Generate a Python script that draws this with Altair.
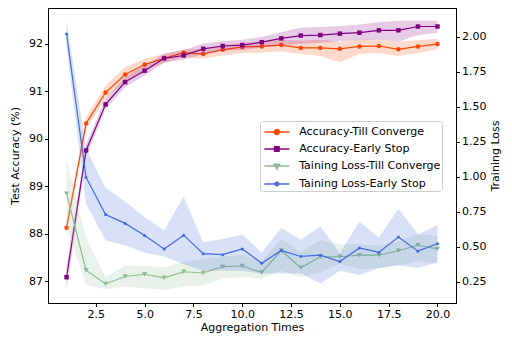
import altair as alt
import pandas as pd

x_vals = list(range(1, 21))

series_names = ["Accuracy-Till Converge", "Accuracy-Early Stop",
                "Taining Loss-Till Converge", "Taining Loss-Early Stop"]
series_colors = ["#FF4500", "#800080", "#8FBC8F", "#4169E1"]
series_shapes = ["circle", "square", "triangle-down", "circle"]
series_sizes = [20, 20, 26, 9]

acc_tc_mean = [88.12, 90.32, 90.97, 91.35, 91.56, 91.69, 91.81, 91.78, 91.87, 91.93,
               91.94, 91.97, 91.91, 91.91, 91.89, 91.94, 91.95, 91.88, 91.94, 91.99]
acc_tc_lo = [87.99, 90.20, 90.84, 91.22, 91.44, 91.59, 91.72, 91.68, 91.75, 91.80,
             91.81, 91.84, 91.78, 91.74, 91.61, 91.78, 91.80, 91.74, 91.80, 91.88]
acc_tc_hi = [88.25, 90.45, 91.12, 91.50, 91.68, 91.78, 91.88, 91.88, 91.96, 92.02,
             92.04, 92.08, 92.06, 92.08, 92.04, 92.08, 92.08, 92.04, 92.07, 92.11]

acc_es_mean = [87.08, 89.75, 90.72, 91.19, 91.43, 91.69, 91.75, 91.89, 91.95, 91.97,
               92.03, 92.11, 92.17, 92.18, 92.21, 92.23, 92.28, 92.28, 92.36, 92.36]
acc_es_lo = [86.82, 89.62, 90.62, 91.08, 91.33, 91.60, 91.66, 91.78, 91.85, 91.86,
             91.92, 91.97, 91.99, 92.02, 92.05, 92.07, 92.08, 92.04, 92.18, 92.23]
acc_es_hi = [87.30, 89.88, 90.84, 91.30, 91.54, 91.79, 91.86, 92.00, 92.05, 92.08,
             92.14, 92.24, 92.34, 92.35, 92.37, 92.40, 92.45, 92.48, 92.48, 92.48]

loss_tc_mean = [0.88, 0.334, 0.236, 0.289, 0.305, 0.28, 0.323, 0.314, 0.359, 0.364,
                0.318, 0.475, 0.352, 0.43, 0.43, 0.441, 0.441, 0.473, 0.512, 0.486]
loss_tc_lo = [0.64, 0.227, 0.198, 0.216, 0.205, 0.193, 0.216, 0.227, 0.273, 0.284,
              0.275, 0.33, 0.284, 0.32, 0.38, 0.34, 0.35, 0.37, 0.40, 0.38]
loss_tc_hi = [1.125, 0.568, 0.284, 0.37, 0.364, 0.357, 0.393, 0.416, 0.432, 0.444,
              0.40, 0.557, 0.466, 0.55, 0.52, 0.52, 0.51, 0.54, 0.59, 0.58]

loss_es_mean = [2.02, 0.996, 0.732, 0.668, 0.582, 0.486, 0.584, 0.452, 0.445, 0.486,
                0.384, 0.475, 0.432, 0.441, 0.396, 0.493, 0.461, 0.571, 0.47, 0.523]
loss_es_lo = [1.92, 0.807, 0.546, 0.512, 0.459, 0.432, 0.377, 0.33, 0.33, 0.33,
              0.31, 0.31, 0.31, 0.24, 0.33, 0.30, 0.35, 0.37, 0.35, 0.39]
loss_es_hi = [2.12, 1.20, 0.92, 0.825, 0.711, 0.62, 0.859, 0.534, 0.557, 0.589,
              0.459, 0.636, 0.552, 0.648, 0.455, 0.682, 0.568, 0.773, 0.59, 0.654]

acc_ticks = [87, 88, 89, 90, 91, 92]
loss_ticks = [0.25, 0.5, 0.75, 1.0, 1.25, 1.5, 1.75, 2.0]
x_ticks = [2.5, 5.0, 7.5, 10.0, 12.5, 15.0, 17.5, 20.0]


def frame(name, mean, lo, hi):
    return pd.DataFrame({"x": x_vals, "mean": mean, "lo": lo, "hi": hi, "series": name})


frames = [
    frame(series_names[0], acc_tc_mean, acc_tc_lo, acc_tc_hi),
    frame(series_names[1], acc_es_mean, acc_es_lo, acc_es_hi),
    frame(series_names[2], loss_tc_mean, loss_tc_lo, loss_tc_hi),
    frame(series_names[3], loss_es_mean, loss_es_lo, loss_es_hi),
]
legend_df = pd.DataFrame({"series": series_names})

FONT = "DejaVu Sans"
FS = 11

# legend symbols: a short line with the marker in the middle (custom SVG paths)
seg = "M-0.77,0L2.12,0"
legend_paths = [
    seg + "M0.96,0A0.29,0.29,0,1,1,0.38,0A0.29,0.29,0,1,1,0.96,0Z",
    seg + "M0.40,-0.27L0.94,-0.27L0.94,0.27L0.40,0.27Z",
    seg + "M0.34,-0.2L1.0,-0.2L0.67,0.36Z",
    seg + "M0.87,0A0.2,0.2,0,1,1,0.47,0A0.2,0.2,0,1,1,0.87,0Z",
]

legend = alt.Legend(
    orient="none", legendX=212, legendY=113, title=None,
    padding=1.5, symbolSize=300, labelOffset=18.7, rowPadding=2,
    strokeColor="#cccccc", fillColor="rgba(255,255,255,0.8)", cornerRadius=3,
    labelFontSize=FS, labelFont=FONT, labelColor="black", labelLimit=300,
    symbolStrokeWidth=1.3, symbolOpacity=1,
)

x_enc = alt.X("x:Q", scale=alt.Scale(domain=[0.05, 20.95], nice=False, zero=False),
              axis=alt.Axis(values=x_ticks, format=".1f", title="Aggregation Times",
                            titlePadding=2))

acc_axis = alt.Axis(orient="left", values=acc_ticks, format="d",
                    title="Test Accuracy (%)", titlePadding=8)
acc_scale = alt.Scale(domain=[86.537, 92.75], nice=False, zero=False)
loss_axis = alt.Axis(orient="right", values=loss_ticks, format=".2f",
                     title="Training Loss", titlePadding=4, titleAngle=270,
                     titleBaseline="top")
loss_scale = alt.Scale(domain=[0.10, 2.205], nice=False, zero=False)


def series_layers(i, scale, axis):
    base = alt.Chart(frames[i])
    col = series_colors[i]
    band = base.mark_area(opacity=0.2, color=col).encode(
        x=x_enc, y=alt.Y("lo:Q", scale=scale, axis=axis), y2="hi:Q")
    line = base.mark_line(strokeWidth=1.2, color=col).encode(
        x=x_enc, y=alt.Y("mean:Q", scale=scale, axis=axis))
    pts = base.mark_point(filled=True, opacity=1, shape=series_shapes[i],
                          size=series_sizes[i], color=col).encode(
        x=x_enc, y=alt.Y("mean:Q", scale=scale, axis=axis))
    return [band, line, pts]


acc_block = alt.layer(*(series_layers(0, acc_scale, acc_axis)
                        + series_layers(1, acc_scale, acc_axis)))
loss_block = alt.layer(*(series_layers(2, loss_scale, loss_axis)
                         + series_layers(3, loss_scale, loss_axis)))

# zero-size marks that only carry the legend
lscale = alt.Scale(domain=series_names, range=series_colors)
legend_layer = alt.Chart(legend_df).mark_point(
    filled=True, opacity=1, size=0, strokeWidth=1.3
).encode(
    fill=alt.Fill("series:N", scale=lscale, legend=legend),
    stroke=alt.Stroke("series:N", scale=lscale, legend=legend),
    shape=alt.Shape("series:N", scale=alt.Scale(domain=series_names, range=legend_paths),
                    legend=legend),
)

chart = alt.layer(acc_block, loss_block, legend_layer).resolve_scale(
    y="independent"
).properties(
    width=408, height=295,
    padding={"left": 40, "top": 0, "right": 48, "bottom": 33},
    autosize=alt.AutoSizeParams(type="none"),
).configure(font=FONT).configure_view(
    stroke="black", strokeWidth=1
).configure_axis(
    grid=False, labelFont=FONT, titleFont=FONT, labelFontSize=FS, titleFontSize=FS,
    titleFontWeight="normal", labelColor="black", titleColor="black",
    tickColor="black", domainColor="black", tickSize=3.5, labelPadding=2,
    domainWidth=1, tickWidth=1,
)

chart.save("out.html", embed_options={"renderer": "svg", "actions": False})
